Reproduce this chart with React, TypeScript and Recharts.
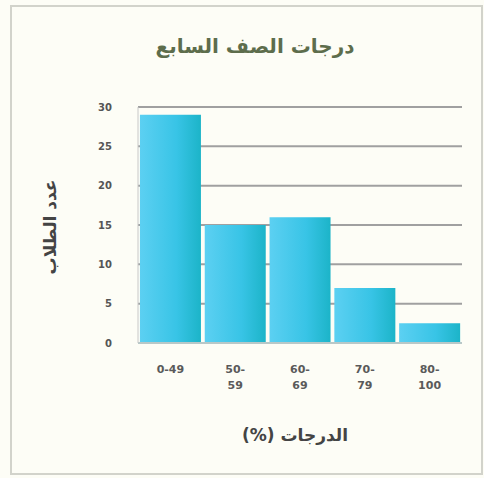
import React from 'react';
import { BarChart, Bar, XAxis, YAxis, CartesianGrid } from 'recharts';

const categories = ['0-49', '50-59', '60-69', '70-79', '80-100'];
const tickLabels = ['0-49', '50-\n59', '60-\n69', '70-\n79', '80-\n100'];
const students = [29, 15, 16, 7, 2.5];
const yTicks = [0, 5, 10, 15, 20, 25, 30];

const chartTitle = 'درجات الصف السابع';
const xTitle = 'الدرجات (%)';
const yTitle = 'عدد الطلاب';

const data = categories.map((c, i) => ({ name: c, label: tickLabels[i], value: students[i] }));

const FONT = '"DejaVu Sans", sans-serif';

const XTick = (props: any) => {
  const { x, y, payload, index } = props;
  const lines = String(tickLabels[index] ?? payload.value).split('\n');
  return (
    <text x={x} y={y} textAnchor="middle" fill="#5a5a5a" fontSize={11} fontFamily={FONT} fontWeight="bold">
      {lines.map((l, i) => (
        <tspan key={i} x={x} dy={i === 0 ? 22 : 16}>{l}</tspan>
      ))}
    </text>
  );
};

export default function App() {
  return (
    <div style={{ position: 'fixed', left: 0, top: 0, width: 484, height: 478, background: '#fdfdf6', overflow: 'hidden' }}>
      <div style={{ position: 'absolute', left: 10, top: 5, width: 469, height: 466, border: '2px solid #d2d3cb' }} />
      <div style={{ position: 'absolute', left: 0, top: 34, width: 510, textAlign: 'center', fontFamily: FONT, fontWeight: 'bold', fontSize: 20, color: '#5d6d4c', direction: 'rtl' }}>
        {chartTitle}
      </div>
      <div style={{ position: 'absolute', left: 0, top: 425, width: 590, textAlign: 'center', fontFamily: FONT, fontWeight: 'bold', fontSize: 17, color: '#444', direction: 'rtl' }}>
        {xTitle}
      </div>
      <div style={{ position: 'absolute', left: 50, top: 228, width: 0, height: 0 }}>
        <div style={{ position: 'absolute', left: -90, top: -11, width: 180, textAlign: 'center', transform: 'rotate(-90deg)', fontFamily: FONT, fontWeight: 'bold', fontSize: 17, color: '#444', direction: 'rtl' }}>
          {yTitle}
        </div>
      </div>
      <div style={{ position: 'absolute', left: 0, top: 0 }}>
        <BarChart width={484} height={478} data={data} margin={{ top: 107, right: 22, bottom: 105, left: 98 }} barCategoryGap="3%">
          <defs>
            <linearGradient id="barGrad" x1="0" y1="0" x2="1" y2="0">
              <stop offset="0%" stopColor="#5cd0f2" />
              <stop offset="60%" stopColor="#38c4e6" />
              <stop offset="100%" stopColor="#1cb4c8" />
            </linearGradient>
          </defs>
          <CartesianGrid vertical={false} xAxisId="b" yAxisId="l" stroke="#a0a0a0" strokeWidth={2} />
          <XAxis dataKey="name" xAxisId="b" tick={<XTick />} tickLine={false} axisLine={{ stroke: '#b8c8c8', strokeWidth: 2 }} interval={0} />
          <XAxis dataKey="name" xAxisId="t" orientation="top" tick={false} tickLine={false} axisLine={{ stroke: '#a8a8a8', strokeWidth: 2 }} height={0} />
          <YAxis yAxisId="l" domain={[0, 30]} ticks={yTicks} width={40} tickLine={false} axisLine={{ stroke: '#c8c8c8', strokeWidth: 1 }} tickMargin={20} tick={{ fill: '#555', fontSize: 10, fontFamily: FONT, fontWeight: 'bold' }} />
          <YAxis yAxisId="r" orientation="right" domain={[0, 30]} ticks={yTicks} width={0} tick={false} tickLine={false} axisLine={{ stroke: '#a8a8a8', strokeWidth: 2 }} />
          <Bar dataKey="value" xAxisId="b" yAxisId="l" fill="url(#barGrad)" isAnimationActive={false} />
        </BarChart>
      </div>
    </div>
  );
}
